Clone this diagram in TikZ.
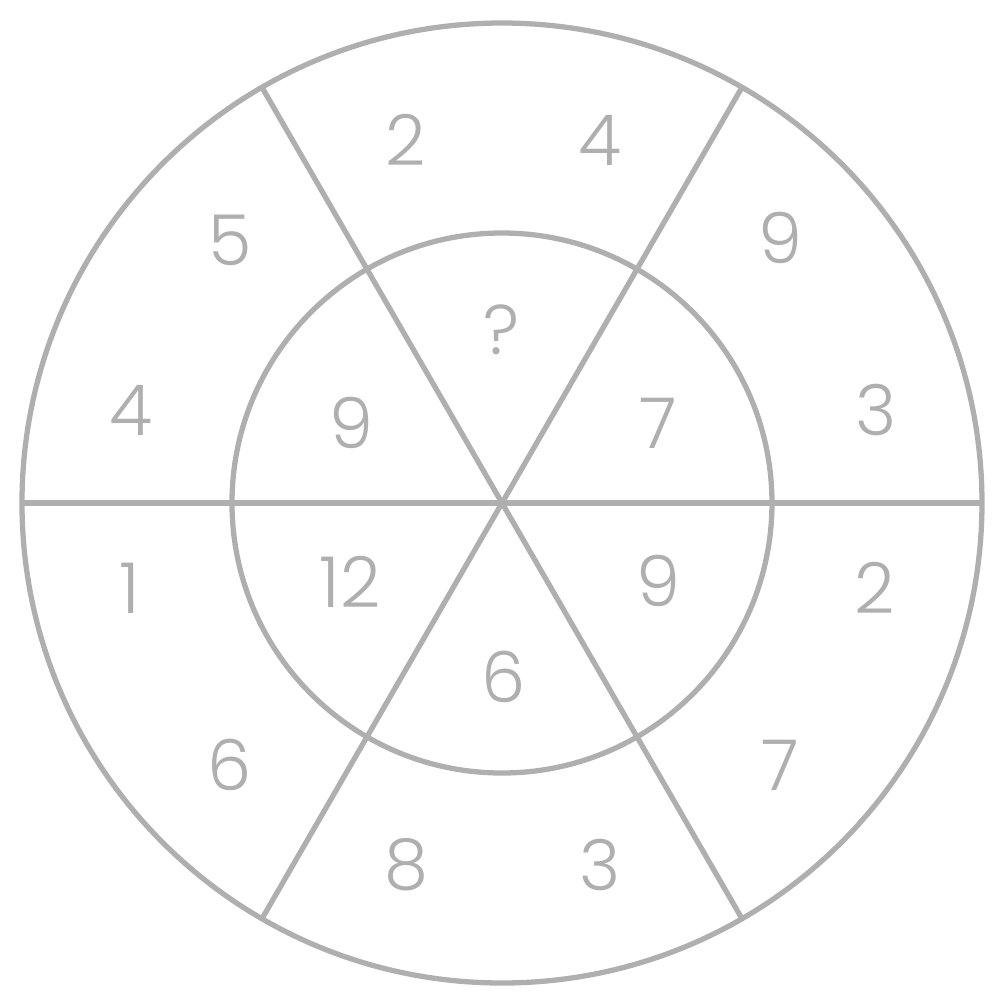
\documentclass[tikz,border=0pt]{standalone}
\usepackage{fontspec}
\setmainfont{Poppins Light}
\usetikzlibrary{calc}
\definecolor{ringgray}{HTML}{AEAFAE}
\definecolor{digitgray}{HTML}{AEAFAE}
\tikzset{
  ring/.style={draw=ringgray,line width=1.5pt},
  spoke/.style={draw=ringgray,line width=1.5pt},
  digit/.style={text=digitgray,inner sep=0pt,font=\fontsize{20}{24}\selectfont}
}
\begin{document}
\begin{tikzpicture}
  \useasboundingbox (-5.02,-5.03) rectangle (5.04,5.03);
  \coordinate (c) at (0,0);
  % rings
  \draw[ring] (c) circle (4.8);
  \draw[ring] (c) circle (2.7);
  % spokes
  \coordinate (e0) at (0:4.8);
  \coordinate (e60) at (60:4.8);
  \coordinate (e120) at (120:4.8);
  \coordinate (e180) at (180:4.8);
  \coordinate (e240) at (240:4.8);
  \coordinate (e300) at (300:4.8);
  \draw[spoke] (e0) -- (e180);
  \draw[spoke] (e60) -- (e240);
  \draw[spoke] (e120) -- (e300);
  % inner numbers
  \node[digit] (i90) at (0,1.73) {?};
  \node[digit] (i30) at (1.56,0.80) {7};
  \node[digit] (i330) at (1.56,-0.78) {9};
  \node[digit] (i270) at (0.02,-1.74) {6};
  \node[digit] (i210) at (-1.52,-0.79) {12};
  \node[digit] (i150) at (-1.51,0.80) {9};
  % outer numbers
  \node[digit] (o105) at (-0.96,3.63) {2};
  \node[digit] (o75) at (0.98,3.63) {4};
  \node[digit] (o45) at (2.78,2.65) {9};
  \node[digit] (o15) at (3.74,0.93) {3};
  \node[digit] (o345) at (3.73,-0.85) {2};
  \node[digit] (o315) at (2.78,-2.62) {7};
  \node[digit] (o285) at (0.98,-3.62) {3};
  \node[digit] (o255) at (-0.96,-3.62) {8};
  \node[digit] (o225) at (-2.72,-2.62) {6};
  \node[digit] (o195) at (-3.72,-0.85) {1};
  \node[digit] (o165) at (-3.71,0.93) {4};
  \node[digit] (o135) at (-2.72,2.63) {5};
\end{tikzpicture}
\end{document}
